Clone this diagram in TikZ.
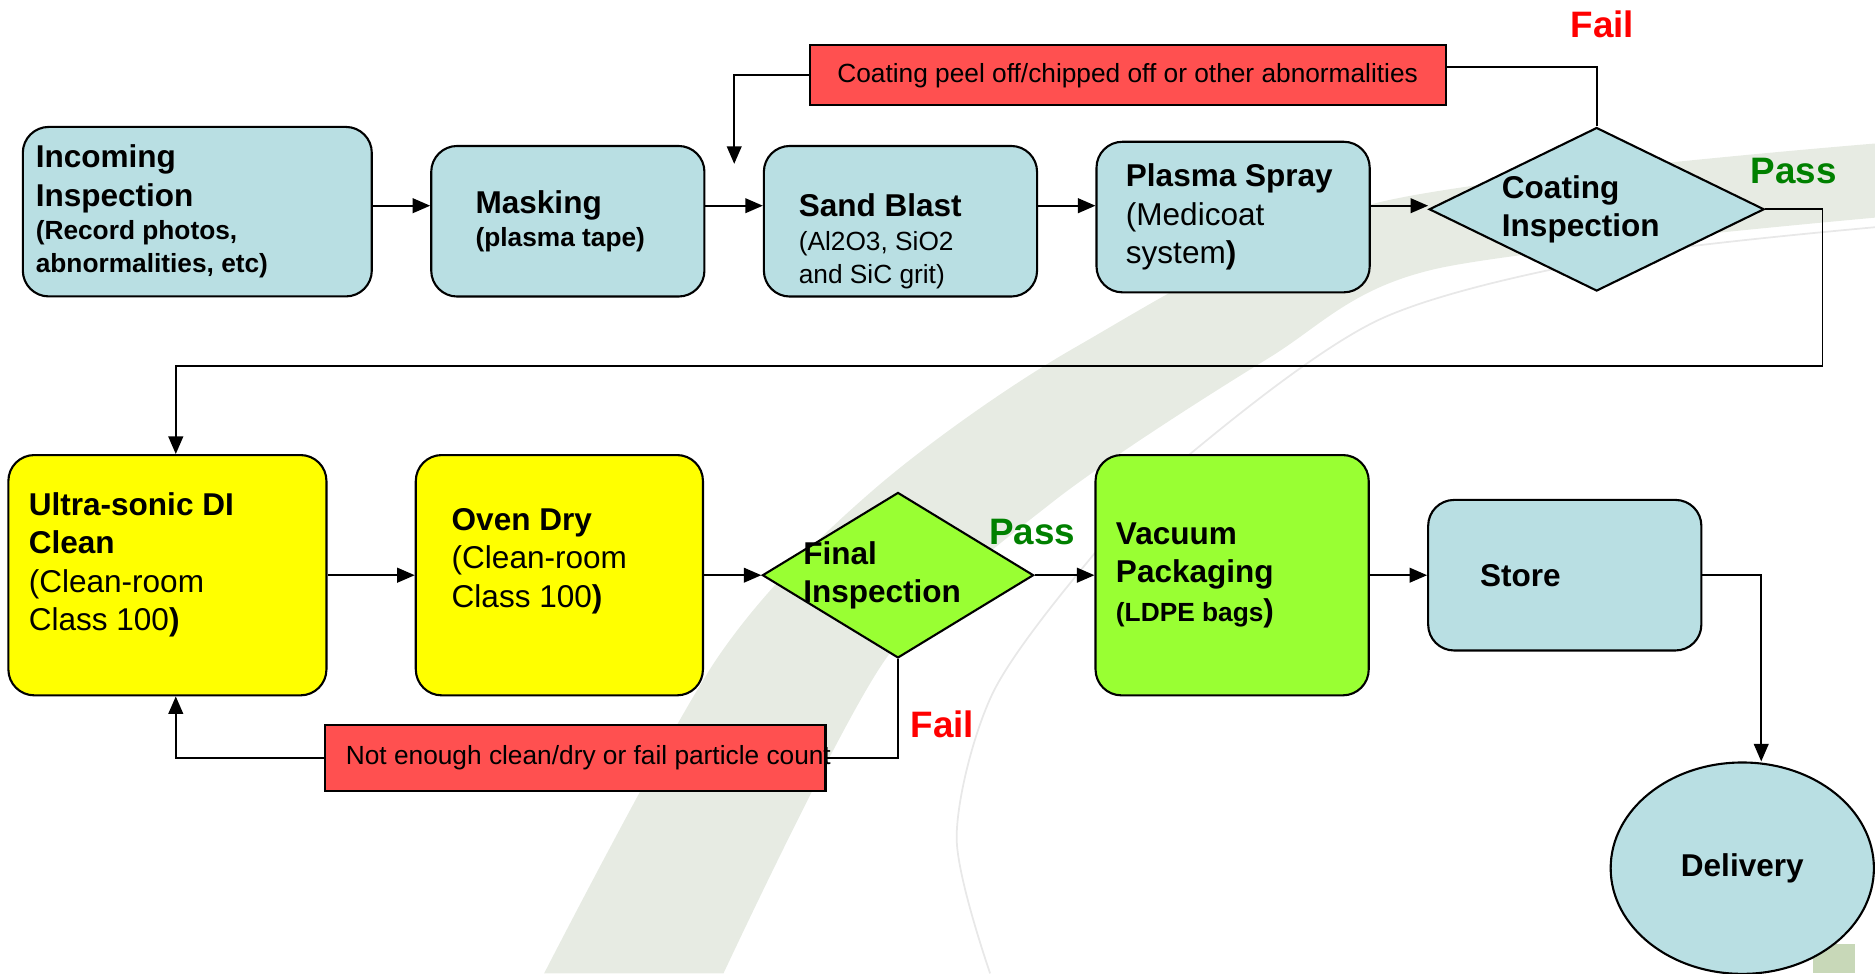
\documentclass[tikz,border=0pt]{standalone}
\usepackage{fontspec}
\setmainfont{Liberation Sans}
\usetikzlibrary{arrows.meta,positioning,shapes.geometric}

\definecolor{stepblue}{RGB}{185,223,227}
\definecolor{stepyellow}{RGB}{255,255,0}
\definecolor{steplime}{RGB}{153,255,51}
\definecolor{notered}{RGB}{255,80,80}
\definecolor{passgreen}{RGB}{0,128,0}
\definecolor{markgray}{RGB}{231,235,227}
\definecolor{markgreen}{RGB}{200,216,184}

\newcommand{\notesize}{\fontsize{7.5}{9.5}\selectfont}

\begin{document}
\begin{tikzpicture}
  [x=0.012cm,y=-0.012cm,node distance=0.575cm,>={Triangle[length=5pt,width=4.2pt]},
   every node/.style={font=\fontsize{9}{11}\selectfont\bfseries},
   box/.style={rectangle,rounded corners=0.26cm,draw,line width=0.6pt,fill=stepblue,
     align=flush left,inner sep=0pt,minimum width=2.74cm,minimum height=1.51cm},
   tall box/.style={box,fill=stepyellow,minimum height=2.41cm},
   decision/.style={diamond,draw,line width=0.6pt,fill=stepblue,inner sep=0pt,
     text width=1.9cm,align=flush left},
   note/.style={rectangle,draw,line width=0.6pt,fill=notered,inner sep=0pt,
     font=\fontsize{7.5}{9}\selectfont},
   fail/.style={text=red,font=\fontsize{10.5}{12}\selectfont\bfseries},
   pass/.style={fail,text=passgreen},
   flow/.style={->,line width=0.5pt}]

  \useasboundingbox (0,0) rectangle (1568,814);

  % watermark behind the chart
  \fill [markgray] plot [smooth] coordinates {(455,814) (600,550) (730,410) (900,290) (1150,170) (1568,120)}
    -- plot [smooth] coordinates {(1568,182) (1200,225) (1060,300) (880,420) (740,552) (605,814)} -- cycle;
  \draw [gray!18,line width=0.5pt] plot [smooth] coordinates {(828,814) (800,700) (830,580) (911,468) (996,379) (1154,267) (1350,215) (1568,190)};
  \fill [markgreen] (1516,789) rectangle (1551,814);

  % First row
  \node [box,minimum width=3.5cm,minimum height=1.7cm,text width=3.24cm] (incoming) at (165,177)
    {Incoming\\Inspection\par\notesize(Record photos,\\abnormalities, etc)\par};
  \node [box,text width=1.85cm] (masking)   [right=of incoming,yshift=-0.096cm] {Masking\par\notesize(plasma tape)\par};
  \node [box,text width=2.04cm,text height=18pt] (sandblast) [right=of masking]
    {Sand Blast\par\notesize\mdseries(Al2O3, SiO2\\and SiC grit)\par};
  \node [box,text width=2.15cm] (plasma)    [right=of sandblast,yshift=0.042cm] {Plasma Spray\par\mdseries(Medicoat\\system\textbf{)}};
  \node [decision,minimum width=3.36cm,minimum height=1.64cm,aspect=2.05] (coating) [right=of plasma,yshift=0.078cm]
    {Coating\\Inspection};

  \node [note,minimum width=6.38cm,minimum height=0.6cm] (peeloff) at (943,63)
    {Coating peel off/chipped off or other abnormalities};
  \node [fail] (failcoat) at (1340,20)  {Fail};
  \node [pass] (passcoat) at (1500,143) {Pass};
  \coordinate (rowone)    at (0,172);
  \coordinate (reentry)   at (614,137);
  \coordinate (loopright) at (1524,306);

  % Second row
  \node [tall box,minimum width=3.19cm,text width=2.78cm,text depth=40.8pt] (ultrasonic) at (140,481)
    {Ultra-sonic DI\\Clean\par\mdseries(Clean-room\\Class 100\textbf{)}};
  \node [tall box,minimum width=2.88cm,text width=2.16cm,text depth=32pt] (ovendry) [right=0.875cm of ultrasonic]
    {Oven Dry\par\mdseries(Clean-room\\Class 100\textbf{)}};
  \node [decision,fill=steplime,minimum width=2.72cm,minimum height=1.66cm,aspect=1.64,inner xsep=-0.2cm]
    (final) [right=of ovendry] {Final\\Inspection};
  \node [tall box,fill=steplime,text width=2.33cm] (vacuum) [right=0.6cm of final]
    {Vacuum\\Packaging\par\notesize(LDPE bags{\fontsize{9}{11}\selectfont)}};
  \node [box,text width=1.7cm] (store) [right=of vacuum] {Store};
  \node [ellipse,draw,line width=0.6pt,fill=stepblue,inner sep=0pt,minimum width=2.64cm,minimum height=2.12cm]
    (delivery) at (1457,726) {Delivery};

  \node [note,minimum width=5.02cm,minimum height=0.66cm] (notclean) at (481,634)
    {\makebox[4.6cm][l]{Not enough clean/dry or fail particle count}};
  \node [fail] (failfinal) at (788,606) {Fail};
  \node [pass] (passfinal) at (863,445) {Pass};

  % connectors
  \draw [flow] (incoming.east |- rowone)  -- (masking.west |- rowone);
  \draw [flow] (masking.east |- rowone)   -- (sandblast.west |- rowone);
  \draw [flow] (sandblast.east |- rowone) -- (plasma.west |- rowone);
  \draw [flow] (plasma.east |- rowone)    -- (coating.west |- rowone);
  \draw [line width=0.5pt] (coating.north) |- ([yshift=0.084cm]peeloff.east);
  \draw [flow] (peeloff.west) -| (reentry);
  \draw [flow] (coating.east) -| (loopright) -| ([xshift=0.084cm]ultrasonic.north);

  \draw [flow] (ultrasonic) -- (ovendry);
  \draw [flow] (ovendry)    -- (final);
  \draw [flow] (final)      -- (vacuum);
  \draw [flow] (vacuum)     -- (store);
  \draw [flow] (store)      -| ([xshift=0.19cm]delivery.north);
  \draw [line width=0.5pt] (final.south) |- (notclean.east);
  \draw [flow] (notclean.west) -| ([xshift=0.084cm]ultrasonic.south);

\end{tikzpicture}
\end{document}
